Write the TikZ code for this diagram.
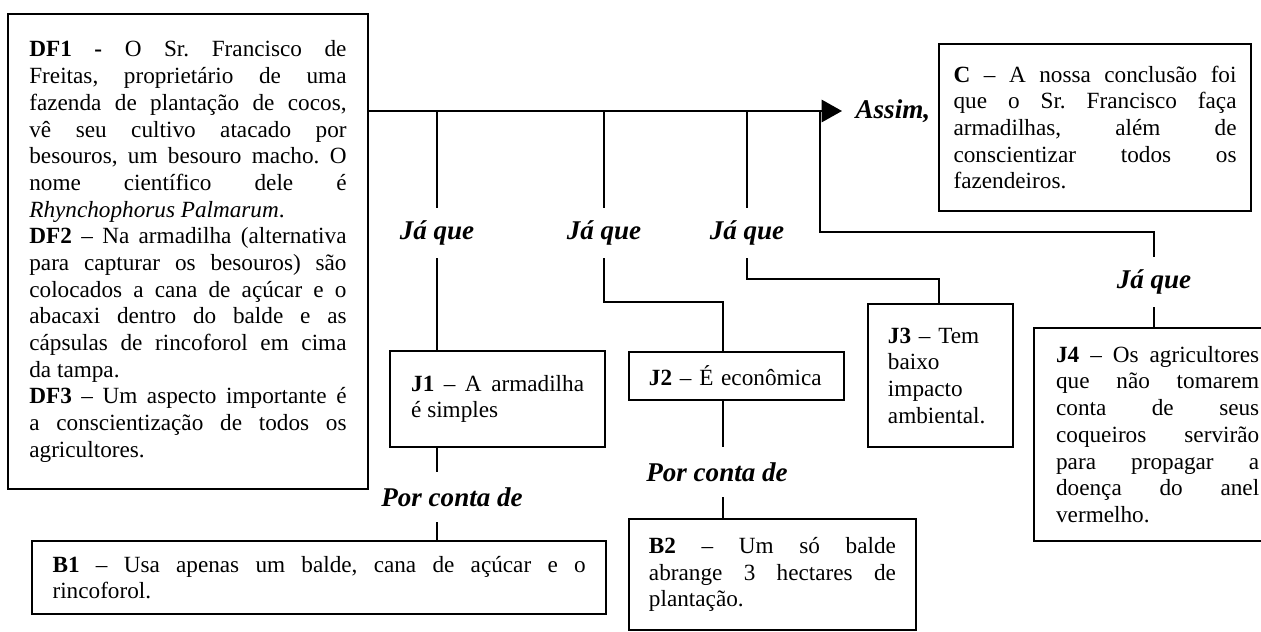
\documentclass[tikz,border=0pt]{standalone}
\usepackage{fontspec}
\setmainfont{Liberation Serif}
\usepackage{tikz}
\usetikzlibrary{arrows.meta}
\usetikzlibrary{positioning}
\hyphenpenalty=10000
\exhyphenpenalty=10000
\tolerance=10000
\hbadness=10000

\begin{document}
\frenchspacing
\begin{tikzpicture}[x=0.517pt,y=-0.517pt,line width=1.1pt,
        >={Triangle[length=10.5pt,width=11.5pt]},
        box/.style={draw=black,line width=1.1pt,anchor=north west,align=justify,
            inner ysep=4pt,font=\fontsize{12}{13.8}\selectfont},
        conn/.style={inner sep=0pt,minimum height=25pt,
            font=\fontsize{14}{16}\selectfont\bfseries\itshape}]

    \useasboundingbox (0,0) rectangle (1261,632);

    % Data and conclusion
    \node[box,text width=164pt,inner xsep=11pt,minimum height=245.6pt] (DF) at (7,13)
        {\textbf{DF1 -} O Sr. Francisco de\linebreak
        Freitas, proprietário de uma\linebreak
        fazenda de plantação de cocos,\linebreak
        vê seu cultivo atacado por\linebreak
        besouros, um besouro macho. O\linebreak
        nome científico dele é\linebreak
        \textit{Rhynchophorus Palmarum}.\par
        \textbf{DF2} – Na armadilha (alternativa\linebreak
        para capturar os besouros) são\linebreak
        colocados a cana de açúcar e o\linebreak
        abacaxi dentro do balde e as\linebreak
        cápsulas de rincoforol em cima\linebreak
        da tampa.\par
        \textbf{DF3} – Um aspecto importante é\linebreak
        a conscientização de todos os\linebreak
        agricultores.};
    \node[box,text width=146.3pt,inner xsep=7.5pt,minimum height=86.3pt] (C) at (938,43)
        {\textbf{C} – A nossa conclusão foi\linebreak
        que o Sr. Francisco faça\linebreak
        armadilhas, além de\linebreak
        conscientizar todos os\linebreak
        fazendeiros.};

    % Warrants
    \node[box,text width=89.4pt,inner xsep=10.9pt,minimum height=49.6pt] (J1) at (389,350)
        {\textbf{J1} – A armadilha\linebreak é simples};
    \node[box,text width=90.6pt,inner xsep=10.3pt,minimum height=24.8pt,align=left] (J2) at (628,351)
        {\textbf{J2} – É econômica};
    \node[box,text width=54.4pt,inner xsep=10.3pt,minimum height=73.9pt,align=left] (J3) at (867,303)
        {\textbf{J3} – Tem\\ baixo\\ impacto\\ ambiental.};
    \node[box,text width=105pt,inner xsep=11.4pt,minimum height=110pt] (J4) at (1033,327)
        {\textbf{J4} – Os agricultores\linebreak
        que não tomarem\linebreak
        conta de seus\linebreak
        coqueiros servirão\linebreak
        para propagar a\linebreak
        doença do anel\linebreak
        vermelho.};

    % Backings
    \node[box,text width=275.6pt,inner xsep=10.6pt,minimum height=37.7pt] (B1) at (31,540)
        {\textbf{B1} – Usa apenas um balde, cana de açúcar e o\linebreak rincoforol.};
    \node[box,text width=127.7pt,inner xsep=10.3pt,minimum height=57.4pt] (B2) at (628,518)
        {\textbf{B2} – Um só balde\linebreak
        abrange 3 hectares de\linebreak
        plantação.};

    % Connector words
    \node[conn,anchor=west,inner xsep=6.5pt] (as) at (842,111) {Assim,};
    \node[conn] (q1) at (437,233) {Já que};
    \node[conn] (q2) at (604,233) {Já que};
    \node[conn] (q3) at (747,233) {Já que};
    \node[conn] (q4) at (1154,282) {Já que};
    \node[conn] (p1) at (452,497) {Por conta de};
    \node[conn] (p2) at (717,472) {Por conta de};

    % Branch and bend points
    \coordinate (b1) at (437,111);
    \coordinate (b2) at (604,111);
    \coordinate (b3) at (747,111);
    \coordinate (b4) at (820,111);
    \coordinate (k2) at (723,302);
    \coordinate (k3) at (939,279);
    \coordinate (k4) at (1154,232);
    \coordinate (k5) at (723,400);

    % Main line
    \draw[->] (DF.east |- as.west) -- (as.west);

    % Lines to the warrants
    \draw (b1) -- (q1.north);
    \draw (q1.south) -- (q1.south |- J1.north);
    \draw (b2) -- (q2.north);
    \draw (q2.south) |- (k2) -- (k2 |- J2.north);
    \draw (b3) -- (q3.north);
    \draw (q3.south) |- (k3) -- (k3 |- J3.north);
    \draw (b4) |- (k4) -- (q4.north);
    \draw (q4.south) -- (q4.south |- J4.north);

    % Lines to the backings
    \draw (b1 |- J1.south) -- (b1 |- p1.north);
    \draw (b1 |- p1.south) -- (b1 |- B1.north);
    \draw (k5 |- J2.south) -- (k5 |- p2.north);
    \draw (k5 |- p2.south) -- (k5 |- B2.north);

\end{tikzpicture}
\end{document}
